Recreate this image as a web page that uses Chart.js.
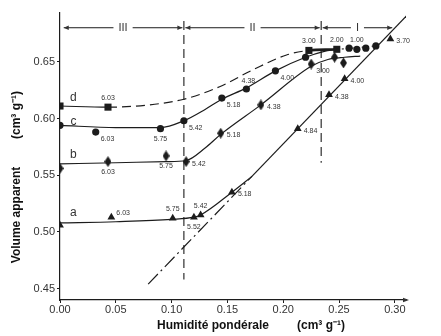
<!DOCTYPE html>
<html>
<head>
<meta charset="utf-8">
<script src="https://cdn.jsdelivr.net/npm/chart.js@4.4.0/dist/chart.umd.min.js"></script>
<style>
  html, body { margin: 0; padding: 0; background: #fff; }
</style>
</head>
<body>
<canvas id="chart" width="441" height="336"></canvas>
<script>
// Axis ticks
const xTicks = [0, 0.05, 0.10, 0.15, 0.20, 0.25, 0.30];
const yTicks = [0.45, 0.50, 0.55, 0.60, 0.65];

// Series names and zone names
const seriesNames = ['a', 'b', 'c', 'd'];
const zoneNames = ['III', 'II', 'I'];
const zoneBounds = [0.002, 0.111, 0.234, 0.299];

// Measured points (markers) with the label printed beside each one
const dX = [0, 0.043, 0.223, 0.248];
const dY = [0.611, 0.610, 0.660, 0.661];
const dLabels = ['', '6.03', '3.00', '2.00'];

const cX = [0, 0.032, 0.090, 0.111, 0.145, 0.167, 0.193, 0.220, 0.259, 0.266, 0.274, 0.283];
const cY = [0.594, 0.588, 0.591, 0.598, 0.618, 0.626, 0.642, 0.654, 0.662, 0.661, 0.662, 0.664];
const cLabels = ['', '6.03', '5.75', '5.42', '5.18', '4.38', '4.00', '', '', '1.00', '', ''];

const bX = [0, 0.043, 0.095, 0.113, 0.144, 0.180, 0.225, 0.246, 0.254];
const bY = [0.556, 0.562, 0.567, 0.562, 0.587, 0.612, 0.648, 0.654, 0.649];
const bLabels = ['', '6.03', '5.75', '5.42', '5.18', '4.38', '3.00', '', ''];

const aX = [0, 0.046, 0.101, 0.120, 0.126, 0.154, 0.213, 0.241, 0.255, 0.296];
const aY = [0.506, 0.513, 0.512, 0.513, 0.515, 0.535, 0.591, 0.621, 0.635, 0.670];
const aLabels = ['', '6.03', '5.75', '5.52', '5.42', '5.18', '4.84', '4.38', '4.00', '3.70'];

// Fitted curves drawn through the points
const dLineX = [0, 0.043, 0.08, 0.111, 0.143, 0.173, 0.203, 0.223, 0.248, 0.283];
const dLineY = [0.611, 0.610, 0.612, 0.617, 0.628, 0.643, 0.656, 0.660, 0.661, 0.664];
const cLineX = [0, 0.05, 0.09, 0.111, 0.13, 0.145, 0.167, 0.193, 0.220, 0.236, 0.249];
const cLineY = [0.594, 0.592, 0.592, 0.598, 0.608, 0.617, 0.627, 0.642, 0.654, 0.659, 0.661];
const bLineX = [0, 0.05, 0.095, 0.113, 0.13, 0.144, 0.180, 0.225, 0.24, 0.255, 0.269];
const bLineY = [0.560, 0.561, 0.562, 0.563, 0.574, 0.586, 0.612, 0.646, 0.652, 0.654, 0.655];
const aLineX = [0, 0.05, 0.10, 0.120, 0.126, 0.154, 0.172];
const aLineY = [0.508, 0.509, 0.511, 0.513, 0.515, 0.535, 0.549];

// Saturation line (dash-dot part then solid)
const satX = [0.079, 0.170, 0.312];
const satY = [0.454, 0.547, 0.692];

// Zone limits (vertical dashed lines)
const limitX = [0.111, 0.234];
const limitTop = [0.686, 0.686];
const limitBottom = [0.458, 0.561];

const INK = '#1c1c1c';
const TXT = '#333';

const pts = (xs, ys) => xs.map((x, i) => ({ x: x, y: ys[i] }));

// tall diamond marker like the printed one
function tallDiamond(w, h) {
  const c = document.createElement('canvas');
  c.width = w; c.height = h;
  const g = c.getContext('2d');
  g.fillStyle = INK;
  g.beginPath();
  g.moveTo(w / 2, 0); g.lineTo(w, h / 2); g.lineTo(w / 2, h); g.lineTo(0, h / 2);
  g.closePath(); g.fill();
  return c;
}

const lineDs = (data, extra) => Object.assign({
  data: data, showLine: true, pointRadius: 0, borderColor: INK, borderWidth: 1.2,
  cubicInterpolationMode: 'monotone', fill: false
}, extra);

const markDs = (data, labels, pos, style) => Object.assign({
  data: data, showLine: false, backgroundColor: INK, borderColor: INK, borderWidth: 0,
  pointLabels: labels, labelPos: pos
}, style);

const datasets = [
  lineDs(pts(dLineX, dLineY), {
    segment: {
      borderDash: c => (c.p0DataIndex >= 1 && c.p0DataIndex <= 6) ? [9, 5] : (c.p0DataIndex >= 8 ? [2, 3] : undefined),
      borderWidth: c => c.p0DataIndex === 7 ? 2.6 : 1.2
    }
  }),
  lineDs(pts(cLineX, cLineY)),
  lineDs(pts(bLineX, bLineY)),
  lineDs(pts(aLineX, aLineY)),
  lineDs(pts(satX, satY), {
    cubicInterpolationMode: 'default', tension: 0,
    segment: { borderDash: c => c.p0DataIndex === 0 ? [14, 4, 2, 4] : undefined }
  }),
  lineDs([{ x: limitX[0], y: limitTop[0] }, { x: limitX[0], y: limitBottom[0] }],
    { cubicInterpolationMode: 'default', tension: 0, borderDash: [9, 5], borderWidth: 1.1 }),
  lineDs([{ x: limitX[1], y: limitTop[1] }, { x: limitX[1], y: limitBottom[1] }],
    { cubicInterpolationMode: 'default', tension: 0, borderDash: [9, 5], borderWidth: 1.1 }),
  markDs(pts(dX, dY), dLabels, ['a', 'a', 'a', 'a'], { pointStyle: 'rect', pointRadius: 5 }),
  markDs(pts(cX, cY), cLabels, ['', 'br', 'b', 'br', 'br', 'al', 'br', '', '', 'a', '', ''],
    { pointStyle: 'circle', pointRadius: 3.6 }),
  markDs(pts(bX, bY), bLabels, ['', 'b', 'b', 'r', 'r', 'r', 'br', '', ''],
    { pointStyle: tallDiamond(7, 11), pointRadius: 5 }),
  markDs(pts(aX, aY), aLabels, ['', 'ar', 'a', 'b', 'a', 'r', 'r', 'r', 'r', 'r'],
    { pointStyle: 'triangle', pointRadius: 4.5 })
];

const annotate = {
  id: 'annotate',
  afterDatasetsDraw(chart) {
    const { ctx, scales: { x, y } } = chart;
    ctx.save();
    ctx.fillStyle = TXT;
    ctx.strokeStyle = INK;

    // labels beside the points
    ctx.font = '7px "Liberation Sans", Arial, sans-serif';
    chart.data.datasets.forEach((ds, i) => {
      if (!ds.pointLabels) return;
      const meta = chart.getDatasetMeta(i);
      meta.data.forEach((el, j) => {
        const t = ds.pointLabels[j];
        if (!t) return;
        const p = ds.labelPos[j];
        let dx = 0, dy = 0, align = 'center';
        if (p === 'a') { dy = -9; }
        else if (p === 'b') { dy = 10; }
        else if (p === 'r') { dx = 6; dy = 2; align = 'left'; }
        else if (p === 'br') { dx = 5; dy = 7; align = 'left'; }
        else if (p === 'ar') { dx = 5; dy = -4; align = 'left'; }
        else if (p === 'al') { dx = 2; dy = -8; }
        ctx.textAlign = align;
        ctx.textBaseline = 'middle';
        ctx.fillText(t, el.x + dx, el.y + dy);
      });
    });

    // series letters
    ctx.font = '12px "Liberation Sans", Arial, sans-serif';
    ctx.textAlign = 'center';
    ctx.textBaseline = 'middle';
    const letterY = { a: 0.517, b: 0.568, c: 0.597, d: 0.618 };
    seriesNames.forEach(n => ctx.fillText(n, x.getPixelForValue(0.012), y.getPixelForValue(letterY[n])));

    // zones with arrows
    const ay = y.getPixelForValue(0.680);
    ctx.font = '11px "Liberation Sans", Arial, sans-serif';
    ctx.lineWidth = 1;
    const arrow = (x0, x1) => {
      ctx.beginPath(); ctx.moveTo(x0, ay); ctx.lineTo(x1, ay); ctx.stroke();
      const s = Math.sign(x1 - x0);
      ctx.beginPath();
      ctx.moveTo(x1, ay); ctx.lineTo(x1 - s * 5, ay - 2.2); ctx.lineTo(x1 - s * 5, ay + 2.2);
      ctx.closePath(); ctx.fill();
    };
    zoneNames.forEach((n, i) => {
      const l = x.getPixelForValue(zoneBounds[i]) + 1.5;
      const r = x.getPixelForValue(zoneBounds[i + 1]) - 1.5;
      const mid = (l + r) / 2;
      const w = ctx.measureText(n).width / 2 + 5;
      ctx.fillText(n, mid, ay);
      arrow(mid - w, l);
      arrow(mid + w, r);
    });

    // arrow at the end of the x axis
    const xb = y.bottom;
    ctx.beginPath();
    ctx.moveTo(x.right + 3, xb); ctx.lineTo(x.right - 3, xb - 2.2); ctx.lineTo(x.right - 3, xb + 2.2);
    ctx.closePath(); ctx.fill();

    // axis titles
    ctx.fillStyle = '#111';
    ctx.font = 'bold 12px "Liberation Sans", Arial, sans-serif';
    ctx.textAlign = 'center';
    ctx.fillText('Humidité pondérale', 213, 326);
    ctx.fillText('(cm³ g⁻¹)', 321, 326);
    ctx.translate(17, 215);
    ctx.rotate(-Math.PI / 2);
    ctx.fillText('Volume apparent', 0, 0);
    ctx.fillText('(cm³ g⁻¹)', 100, 0);
    ctx.restore();
  }
};

const tickFont = { family: '"Liberation Sans", Arial, sans-serif', size: 11 };

new Chart(document.getElementById('chart'), {
  type: 'scatter',
  data: { datasets: datasets },
  plugins: [annotate],
  options: {
    responsive: false,
    animation: false,
    layout: { padding: { left: 0, right: 35, top: 13, bottom: 0 } },
    plugins: { legend: { display: false }, tooltip: { enabled: false } },
    scales: {
      x: {
        type: 'linear', min: 0, max: 0.31,
        afterBuildTicks: s => { s.ticks = xTicks.map(v => ({ value: v })); },
        afterFit: s => { s.height = 36; },
        grid: { drawOnChartArea: false, tickLength: 3, color: INK },
        border: { color: INK, width: 1.2 },
        ticks: { color: TXT, font: tickFont, padding: 0, maxRotation: 0, callback: v => v.toFixed(2) }
      },
      y: {
        type: 'linear', min: 0.44, max: 0.693,
        afterBuildTicks: s => { s.ticks = yTicks.map(v => ({ value: v })); },
        afterFit: s => { s.width = 60; },
        grid: { drawOnChartArea: false, tickLength: 3, color: INK },
        border: { color: INK, width: 1.2 },
        ticks: { color: TXT, font: tickFont, padding: 2, callback: v => v.toFixed(2) }
      }
    }
  }
});
</script>
</body>
</html>
